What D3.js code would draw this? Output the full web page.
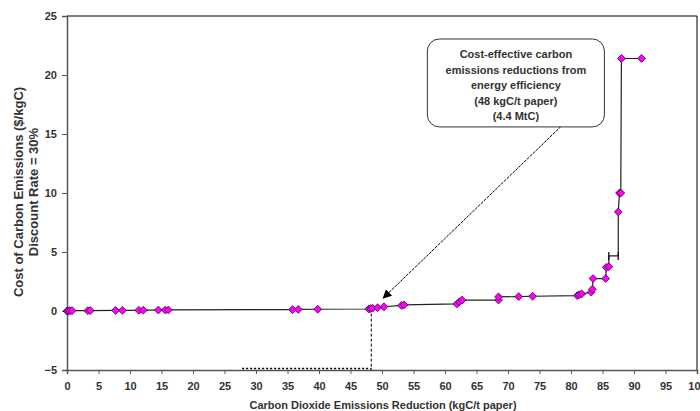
<!DOCTYPE html>
<html>
<head>
    <meta charset="utf-8">
    <title>Cost of carbon emissions reduction</title>
    <script src="https://d3js.org/d3.v7.min.js"></script>
    <style>
        body { margin: 0; background: #fff; }
        svg { font-family: "Liberation Sans", Arial, sans-serif; font-weight: bold; }
    </style>
</head>
<body>
<svg id="chart" width="700" height="411"></svg>
<script>
    // cumulative reduction (kgC/t paper) and cost ($/kgC), in drawing order
    var reductionX = [0, 0.2, 0.45, 0.8, 3.3, 3.7, 7.7, 8.8, 11.4, 12.1, 14.5, 15.6, 16.1,
        35.8, 36.7, 39.8, 47.9, 48.2, 48.5, 49.3, 50.3, 53.1, 53.5, 61.9, 62.3, 62.7,
        68.5, 68.5, 71.7, 73.9, 81.0, 81.3, 81.7, 83.2, 83.4, 83.5, 85.5, 85.6, 86.0,
        86.0, 87.5, 87.5, 87.7, 87.9, 88.0, 91.2];
    var costY = [0, 0, 0.02, 0.03, 0.03, 0.04, 0.05, 0.05, 0.06, 0.07, 0.08, 0.08, 0.09,
        0.12, 0.13, 0.15, 0.17, 0.2, 0.24, 0.28, 0.36, 0.47, 0.52, 0.6, 0.78, 0.93,
        0.93, 1.2, 1.22, 1.25, 1.3, 1.38, 1.45, 1.6, 1.85, 2.75, 2.75, 3.7, 3.75,
        4.67, 4.67, 8.4, 10.0, 10.0, 21.4, 21.4];
    // false = bend in the curve without a marker
    var hasMarker = [1, 1, 1, 1, 1, 1, 1, 1, 1, 1, 1, 1, 1,
        1, 1, 1, 1, 1, 1, 1, 1, 1, 1, 1, 1, 1,
        1, 1, 1, 1, 1, 1, 1, 1, 1, 1, 1, 1, 1,
        0, 0, 1, 1, 1, 1, 1];

    var xTicks = d3.range(0, 101, 5);
    var yTicks = [-5, 0, 5, 10, 15, 20, 25];

    var calloutLines = ["Cost-effective carbon", "emissions reductions from",
        "energy efficiency", "(48 kgC/t paper)", "(4.4 MtC)"];
    var costEffectiveX = 48.3;
    var dottedFromX = 27.8;

    var svg = d3.select("#chart");
    var margin = {top: 16, right: 3, bottom: 41, left: 67};
    var width = 700 - margin.left - margin.right;
    var height = 411 - margin.top - margin.bottom;

    var x = d3.scaleLinear().domain([0, 100]).range([margin.left, margin.left + width]);
    var y = d3.scaleLinear().domain([-5, 25]).range([margin.top + height, margin.top]);

    var points = reductionX.map(function(d, i) {
        return {x: d, y: costY[i], marker: hasMarker[i]};
    });

    // frame (top and right)
    svg.append("path")
        .attr("d", "M" + x(0) + "," + y(25) + "H" + x(100) + "V" + y(-5))
        .style("fill", "none")
        .style("stroke", "#000")
        .style("stroke-width", 1);

    var xAxis = svg.append("g")
        .attr("transform", "translate(0," + y(-5) + ")")
        .call(d3.axisBottom(x).tickValues(xTicks).tickSize(4).tickPadding(8));
    var yAxis = svg.append("g")
        .attr("transform", "translate(" + x(0) + ",0)")
        .call(d3.axisLeft(y).tickValues(yTicks).tickSize(5).tickPadding(5));

    [xAxis, yAxis].forEach(function(g) {
        g.select(".domain").style("stroke", "#555").style("stroke-width", 1.5);
        g.selectAll(".tick line").style("stroke", "#555");
        g.selectAll("text")
            .style("font-family", "'Liberation Sans', Arial, sans-serif")
            .style("font-weight", "bold")
            .style("font-size", "11px")
            .style("fill", "#333");
    });

    // dashed guide at the cost-effective point
    svg.append("line")
        .attr("x1", x(costEffectiveX)).attr("x2", x(costEffectiveX))
        .attr("y1", y(0.2)).attr("y2", y(-5))
        .style("stroke", "#000")
        .style("stroke-dasharray", "3,2");
    svg.append("line")
        .attr("x1", x(dottedFromX)).attr("x2", x(costEffectiveX))
        .attr("y1", y(-5) - 1.5).attr("y2", y(-5) - 1.5)
        .style("stroke", "#000")
        .style("stroke-width", 1.5)
        .style("stroke-dasharray", "2,2");

    // supply curve
    var line = d3.line().x(function(d) { return x(d.x); }).y(function(d) { return y(d.y); });
    svg.append("path")
        .datum(points)
        .attr("d", line)
        .style("fill", "none")
        .style("stroke", "#222")
        .style("stroke-width", 1.2);

    // small caps on the short horizontal step
    var capPts = points.filter(function(d) { return !d.marker; });
    svg.selectAll(".cap")
        .data(capPts)
        .enter().append("line")
        .attr("class", "cap")
        .attr("x1", function(d) { return x(d.x); })
        .attr("x2", function(d) { return x(d.x); })
        .attr("y1", function(d) { return y(d.y) - 4; })
        .attr("y2", function(d) { return y(d.y) + 4; })
        .style("stroke", "#111")
        .style("stroke-width", 1.3);

    var r = 3.9;
    svg.append("g")
        .selectAll("path")
        .data(points.filter(function(d) { return d.marker; }))
        .enter().append("path")
        .attr("d", function(d) {
            var cx = x(d.x), cy = y(d.y);
            return "M" + cx + "," + (cy - r) + "L" + (cx + r) + "," + cy +
                "L" + cx + "," + (cy + r) + "L" + (cx - r) + "," + cy + "Z";
        })
        .style("fill", "#ff00ff")
        .style("stroke", "#400040")
        .style("stroke-width", 0.8);

    // callout box and arrow
    var boxX0 = 57.2, boxX1 = 85.3, boxY0 = 23.05, boxY1 = 15.6;
    var arrowFrom = [79.3, 16.1], arrowTo = [50.2, 1.1];

    svg.append("defs").append("marker")
        .attr("id", "head")
        .attr("viewBox", "0 0 10 10")
        .attr("refX", 9).attr("refY", 5)
        .attr("markerWidth", 9).attr("markerHeight", 9)
        .attr("markerUnits", "userSpaceOnUse")
        .attr("orient", "auto")
        .append("path")
        .attr("d", "M0,0L10,5L0,10Z")
        .style("fill", "#000");

    svg.append("line")
        .attr("x1", x(arrowFrom[0])).attr("y1", y(arrowFrom[1]))
        .attr("x2", x(arrowTo[0])).attr("y2", y(arrowTo[1]))
        .style("stroke", "#000")
        .style("stroke-width", 1)
        .style("stroke-dasharray", "3,1")
        .attr("marker-end", "url(#head)");

    svg.append("rect")
        .attr("x", x(boxX0)).attr("y", y(boxY0))
        .attr("width", x(boxX1) - x(boxX0))
        .attr("height", y(boxY1) - y(boxY0))
        .attr("rx", 12).attr("ry", 12)
        .style("fill", "#fff")
        .style("stroke", "#333")
        .style("stroke-width", 1);

    svg.append("g")
        .selectAll("text")
        .data(calloutLines)
        .enter().append("text")
        .attr("x", (x(boxX0) + x(boxX1)) / 2)
        .attr("y", function(d, i) { return y(boxY0) + 19 + i * 15.5; })
        .attr("text-anchor", "middle")
        .style("font-size", "11px")
        .style("fill", "#333")
        .text(function(d) { return d; });

    // axis titles
    svg.append("text")
        .attr("x", (x(0) + x(100)) / 2 + 1)
        .attr("y", 409)
        .attr("text-anchor", "middle")
        .style("font-size", "11px")
        .style("fill", "#333")
        .text("Carbon Dioxide Emissions Reduction (kgC/t paper)");

    var yTitle = svg.append("text")
        .attr("transform", "translate(23,192) rotate(-90)")
        .attr("text-anchor", "middle")
        .style("font-size", "13px")
        .style("fill", "#333");
    yTitle.append("tspan").attr("x", 0).attr("dy", 0).text("Cost of Carbon Emissions ($/kgC)");
    yTitle.append("tspan").attr("x", 0).attr("dy", 15).text("Discount Rate = 30%");
</script>
</body>
</html>
